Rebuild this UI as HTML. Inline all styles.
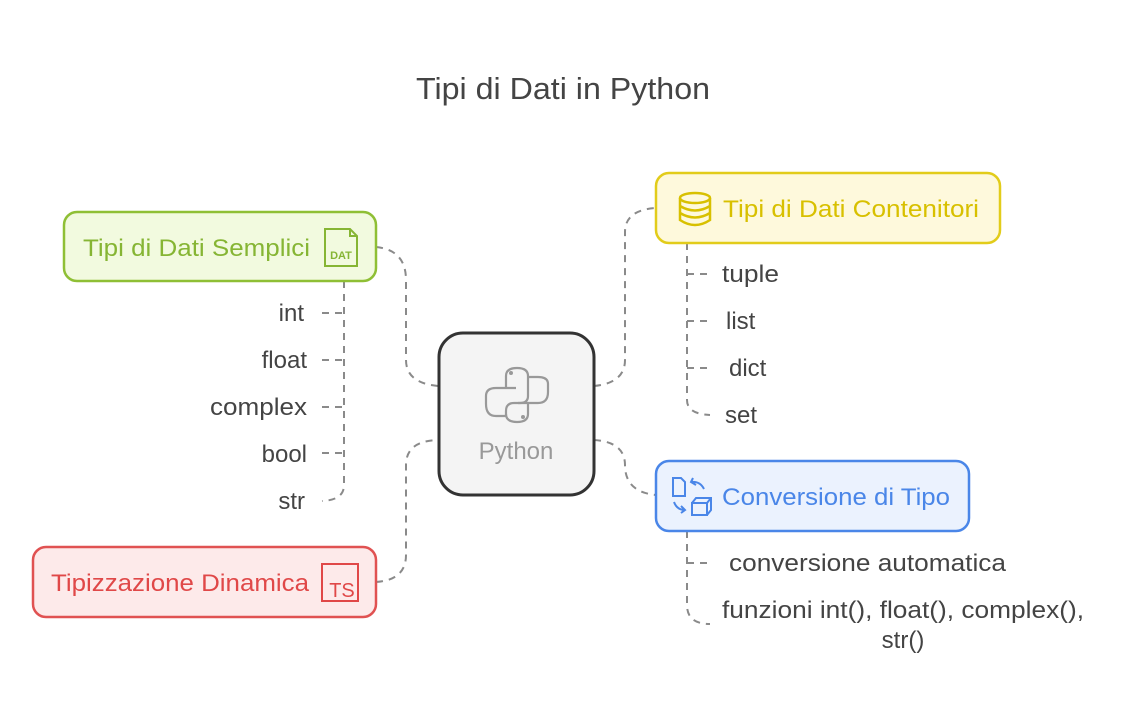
<!DOCTYPE html>
<html><head><meta charset="utf-8"><style>
html,body{margin:0;padding:0;background:#fff;}
svg{display:block;font-family:"Liberation Sans",sans-serif;}
</style></head><body>
<svg width="1126" height="720" viewBox="0 0 1126 720" xmlns="http://www.w3.org/2000/svg">
<text x="563" y="99" font-size="31" fill="#444" text-anchor="middle" textLength="294" lengthAdjust="spacingAndGlyphs">Tipi di Dati in Python</text>

<g fill="none" stroke="#8a8a8a" stroke-width="2" stroke-dasharray="7,6">
<path d="M376 247 Q406 250 406 280 L406 360 Q406 383 438 386"/>
<path d="M376 582 Q406 580 406 555 L406 465 Q406 441 438 440"/>
<path d="M594 386 Q625 383 625 360 L625 232 Q625 210 656 208"/>
<path d="M594 440 Q625 442 625 465 Q625 492 656 495"/>
<path d="M344 281 L344 485 Q344 500 322 501"/>
<path d="M322 313 L344 313 M322 360 L344 360 M322 407 L344 407 M322 453 L344 453"/>
<path d="M687 243 L687 400 Q687 414 710 415"/>
<path d="M687 274 L710 274 M687 321 L710 321 M687 368 L710 368"/>
<path d="M687 531 L687 605 Q687 624 710 624"/>
<path d="M687 563 L710 563"/>
</g>

<rect x="439" y="333" width="155" height="162" rx="24" fill="#f4f4f4" stroke="#333" stroke-width="3"/>
<g fill="none" stroke="#999" stroke-width="2.2" stroke-linejoin="round">
<path d="M506 388 L506 376 Q506 368 517 368 Q528 368 528 376 L528 396 Q528 403 520 403 L514 403 Q506 403 506 411 L506 416 L496 416 Q486 416 486 404 L486 396 Q486 388 496 388 Z M506 388 L516 388"/>
<path d="M528 403 L528 414 Q528 422 517 422 Q506 422 506 414 M528 403 L538 403 Q548 403 548 392 L548 384 Q548 377 538 377 L528 377 M518 403 L528 403"/>
</g>
<circle cx="511" cy="373" r="2" fill="#999"/><circle cx="523" cy="417" r="2" fill="#999"/>
<text x="516" y="459" font-size="24" fill="#999" text-anchor="middle">Python</text>

<rect x="64" y="212" width="312" height="69" rx="13" fill="#f2fadf" stroke="#8fbf35" stroke-width="2.5"/>
<text x="83" y="256" font-size="24" fill="#86b534" textLength="227" lengthAdjust="spacingAndGlyphs">Tipi di Dati Semplici</text>
<path d="M325 229 L350 229 L357 236 L357 266 L325 266 Z M350 229 L350 236 L357 236" fill="none" stroke="#86b534" stroke-width="2"/>
<text x="341" y="259" font-size="11" font-weight="bold" fill="#86b534" text-anchor="middle">DAT</text>
<g font-size="24" fill="#444" text-anchor="end">
<text x="304" y="321">int</text><text x="307" y="368">float</text><text x="307" y="415" textLength="97" lengthAdjust="spacingAndGlyphs">complex</text><text x="307" y="462">bool</text><text x="305" y="509">str</text>
</g>

<rect x="33" y="547" width="343" height="70" rx="13" fill="#fdeaea" stroke="#e05252" stroke-width="2.5"/>
<text x="51" y="591" font-size="24" fill="#e04848" textLength="258" lengthAdjust="spacingAndGlyphs">Tipizzazione Dinamica</text>
<rect x="322" y="564" width="36" height="37" fill="none" stroke="#e04848" stroke-width="2"/>
<text x="342" y="597" font-size="20" fill="#e04848" text-anchor="middle">TS</text>

<rect x="656" y="173" width="344" height="70" rx="13" fill="#fef9dc" stroke="#e2cc1a" stroke-width="2.5"/>
<text x="723" y="217" font-size="24" fill="#d8c000" textLength="256" lengthAdjust="spacingAndGlyphs">Tipi di Dati Contenitori</text>
<g fill="none" stroke="#d8c000" stroke-width="2.5">
<ellipse cx="695" cy="198" rx="15" ry="5"/>
<path d="M680 198 L680 220 Q695 230 710 220 L710 198 M680 206 Q695 215 710 206 M680 213 Q695 222 710 213"/>
</g>
<g font-size="24" fill="#444">
<text x="722" y="282" textLength="57" lengthAdjust="spacingAndGlyphs">tuple</text><text x="726" y="329">list</text><text x="729" y="376">dict</text><text x="725" y="423">set</text>
</g>

<rect x="656" y="461" width="313" height="70" rx="13" fill="#ebf2fe" stroke="#4a86e8" stroke-width="2.5"/>
<text x="722" y="505" font-size="24" fill="#4a86e8" textLength="228" lengthAdjust="spacingAndGlyphs">Conversione di Tipo</text>
<g fill="none" stroke="#4a86e8" stroke-width="2">
<path d="M673 478 L681 478 L685 482 L685 496 L673 496 Z"/>
<path d="M693 478 L691 482 L696 485 M691 482 Q700 481 704 489"/>
<path d="M674 502 Q677 510 685 510 M681 506 L685 510 L681 513"/>
<path d="M692 503 L707 503 L707 515 L692 515 Z M692 503 L696 498 L711 498 L711 510 L707 515 M707 503 L711 498"/>
</g>
<g font-size="24" fill="#444">
<text x="729" y="571" textLength="277" lengthAdjust="spacingAndGlyphs">conversione automatica</text>
<text x="722" y="618" textLength="362" lengthAdjust="spacingAndGlyphs">funzioni int(), float(), complex(),</text>
<text x="903" y="648" text-anchor="middle">str()</text>
</g>
</svg>
</body></html>
